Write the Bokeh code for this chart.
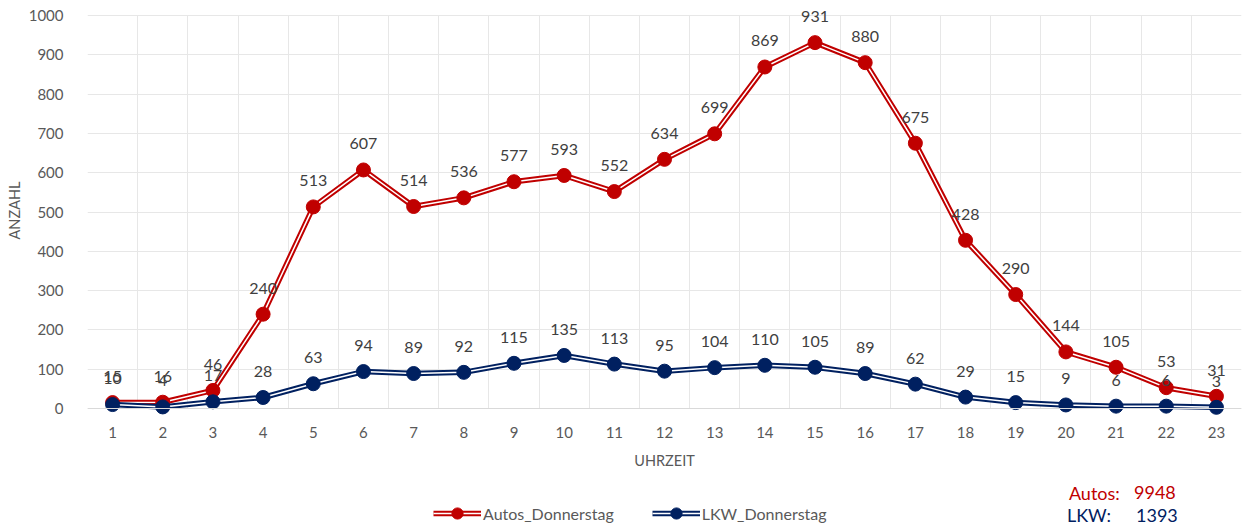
from bokeh.plotting import figure
from bokeh.models import ColumnDataSource, FixedTicker, Range1d, Legend, LegendItem, Label, Title
from bokeh.embed import file_html
from bokeh.resources import INLINE
from bokeh.core.properties import value

hours = list(range(1, 24))
autos = [15, 16, 46, 240, 513, 607, 514, 536, 577, 593, 552, 634, 699, 869, 931, 880, 675, 428, 290, 144, 105, 53, 31]
lkw = [10, 4, 17, 28, 63, 94, 89, 92, 115, 135, 113, 95, 104, 110, 105, 89, 62, 29, 15, 9, 6, 6, 3]
y_ticks = list(range(0, 1001, 100))
total_autos = sum(autos)
total_lkw = sum(lkw)

RED = "#C00000"
BLUE = "#002060"
GREY = "#595959"
LABEL_GREY = "#404040"
FONT = "Lato"

# frame covers the whole height so that labels, legend and totals are not clipped
p = figure(width=1242, height=527, output_backend="svg", toolbar_location=None,
           x_range=Range1d(0.5, 23.5), y_range=Range1d(-302.8, 1038.2),
           min_border_left=85, min_border_right=1, min_border_top=0, min_border_bottom=0)
p.outline_line_color = None
p.background_fill_color = "white"
p.border_fill_color = "white"

p.xaxis.ticker = FixedTicker(ticks=hours)
p.yaxis.ticker = FixedTicker(ticks=y_ticks)
p.xaxis.fixed_location = 0
p.yaxis.bounds = (0, 1000)
p.xgrid.ticker = FixedTicker(ticks=[h + 0.5 for h in range(0, 24)])
p.xgrid.cross_bounds = (0, 1000)
p.xgrid.grid_line_color = "#e7e7e7"
p.ygrid.grid_line_color = "#e7e7e7"

for ax in (p.xaxis, p.yaxis):
    ax.major_tick_line_color = None
    ax.minor_tick_line_color = None
    ax.major_label_text_font = FONT
    ax.major_label_text_font_size = "15px"
    ax.major_label_text_color = GREY
    ax.axis_label_text_font = FONT
    ax.axis_label_text_font_size = "14.5px"
    ax.axis_label_text_color = GREY
    ax.axis_label_text_font_style = "normal"
p.yaxis.axis_line_color = None
p.xaxis.axis_line_color = "#d9d9d9"
p.xaxis.major_label_standoff = 12
p.xaxis.axis_label = "UHRZEIT"
p.xaxis.axis_label_standoff = 11
p.yaxis.major_label_standoff = 18

ytitle = Title(text="ANZAHL", align="right", offset=181, text_font=FONT, text_font_size="14.5px",
               text_font_style="normal", text_color=GREY, standoff=6)
p.add_layout(ytitle, "left")

src = ColumnDataSource(dict(x=hours, autos=autos, lkw=lkw,
                            autos_t=[str(v) for v in autos], lkw_t=[str(v) for v in lkw]))

items = []
for col, color, name in (("autos", RED, "Autos_Donnerstag"), ("lkw", BLUE, "LKW_Donnerstag")):
    r1 = p.line("x", col, source=src, line_color=color, line_width=5.5)
    r2 = p.line("x", col, source=src, line_color="white", line_width=1.5)
    r3 = p.scatter("x", col, source=src, size=14, fill_color=color, line_color=color)
    items.append(LegendItem(label=name, renderers=[r1, r2, r3]))

for col, tcol in (("autos", "autos_t"), ("lkw", "lkw_t")):
    p.text("x", col, text=tcol, source=src, text_align="center", text_baseline="middle",
           y_offset=-26, text_font=value(FONT), text_font_size="16px", text_color=LABEL_GREY)

legend = Legend(items=items, orientation="horizontal", location=(346, 0),
                label_text_font=FONT, label_text_font_size="16px", label_text_color=GREY,
                glyph_width=48, glyph_height=28, spacing=38, label_standoff=2,
                border_line_color=None, background_fill_alpha=0, margin=0, padding=0)
p.add_layout(legend)

p.add_layout(Label(x=20.06, y=-214, text="Autos:", text_color=RED, text_font=FONT,
                   text_font_size="18px", text_baseline="middle"))
p.add_layout(Label(x=22.19, y=-214, text=str(total_autos), text_color=RED, text_font=FONT,
                   text_font_size="18px", text_baseline="middle", text_align="right"))
p.add_layout(Label(x=20.02, y=-272, text="LKW:", text_color=BLUE, text_font=FONT,
                   text_font_size="18px", text_baseline="middle"))
p.add_layout(Label(x=22.23, y=-272, text=str(total_lkw), text_color=BLUE, text_font=FONT,
                   text_font_size="18px", text_baseline="middle", text_align="right"))

open("out.html", "w").write(file_html(p, INLINE))
